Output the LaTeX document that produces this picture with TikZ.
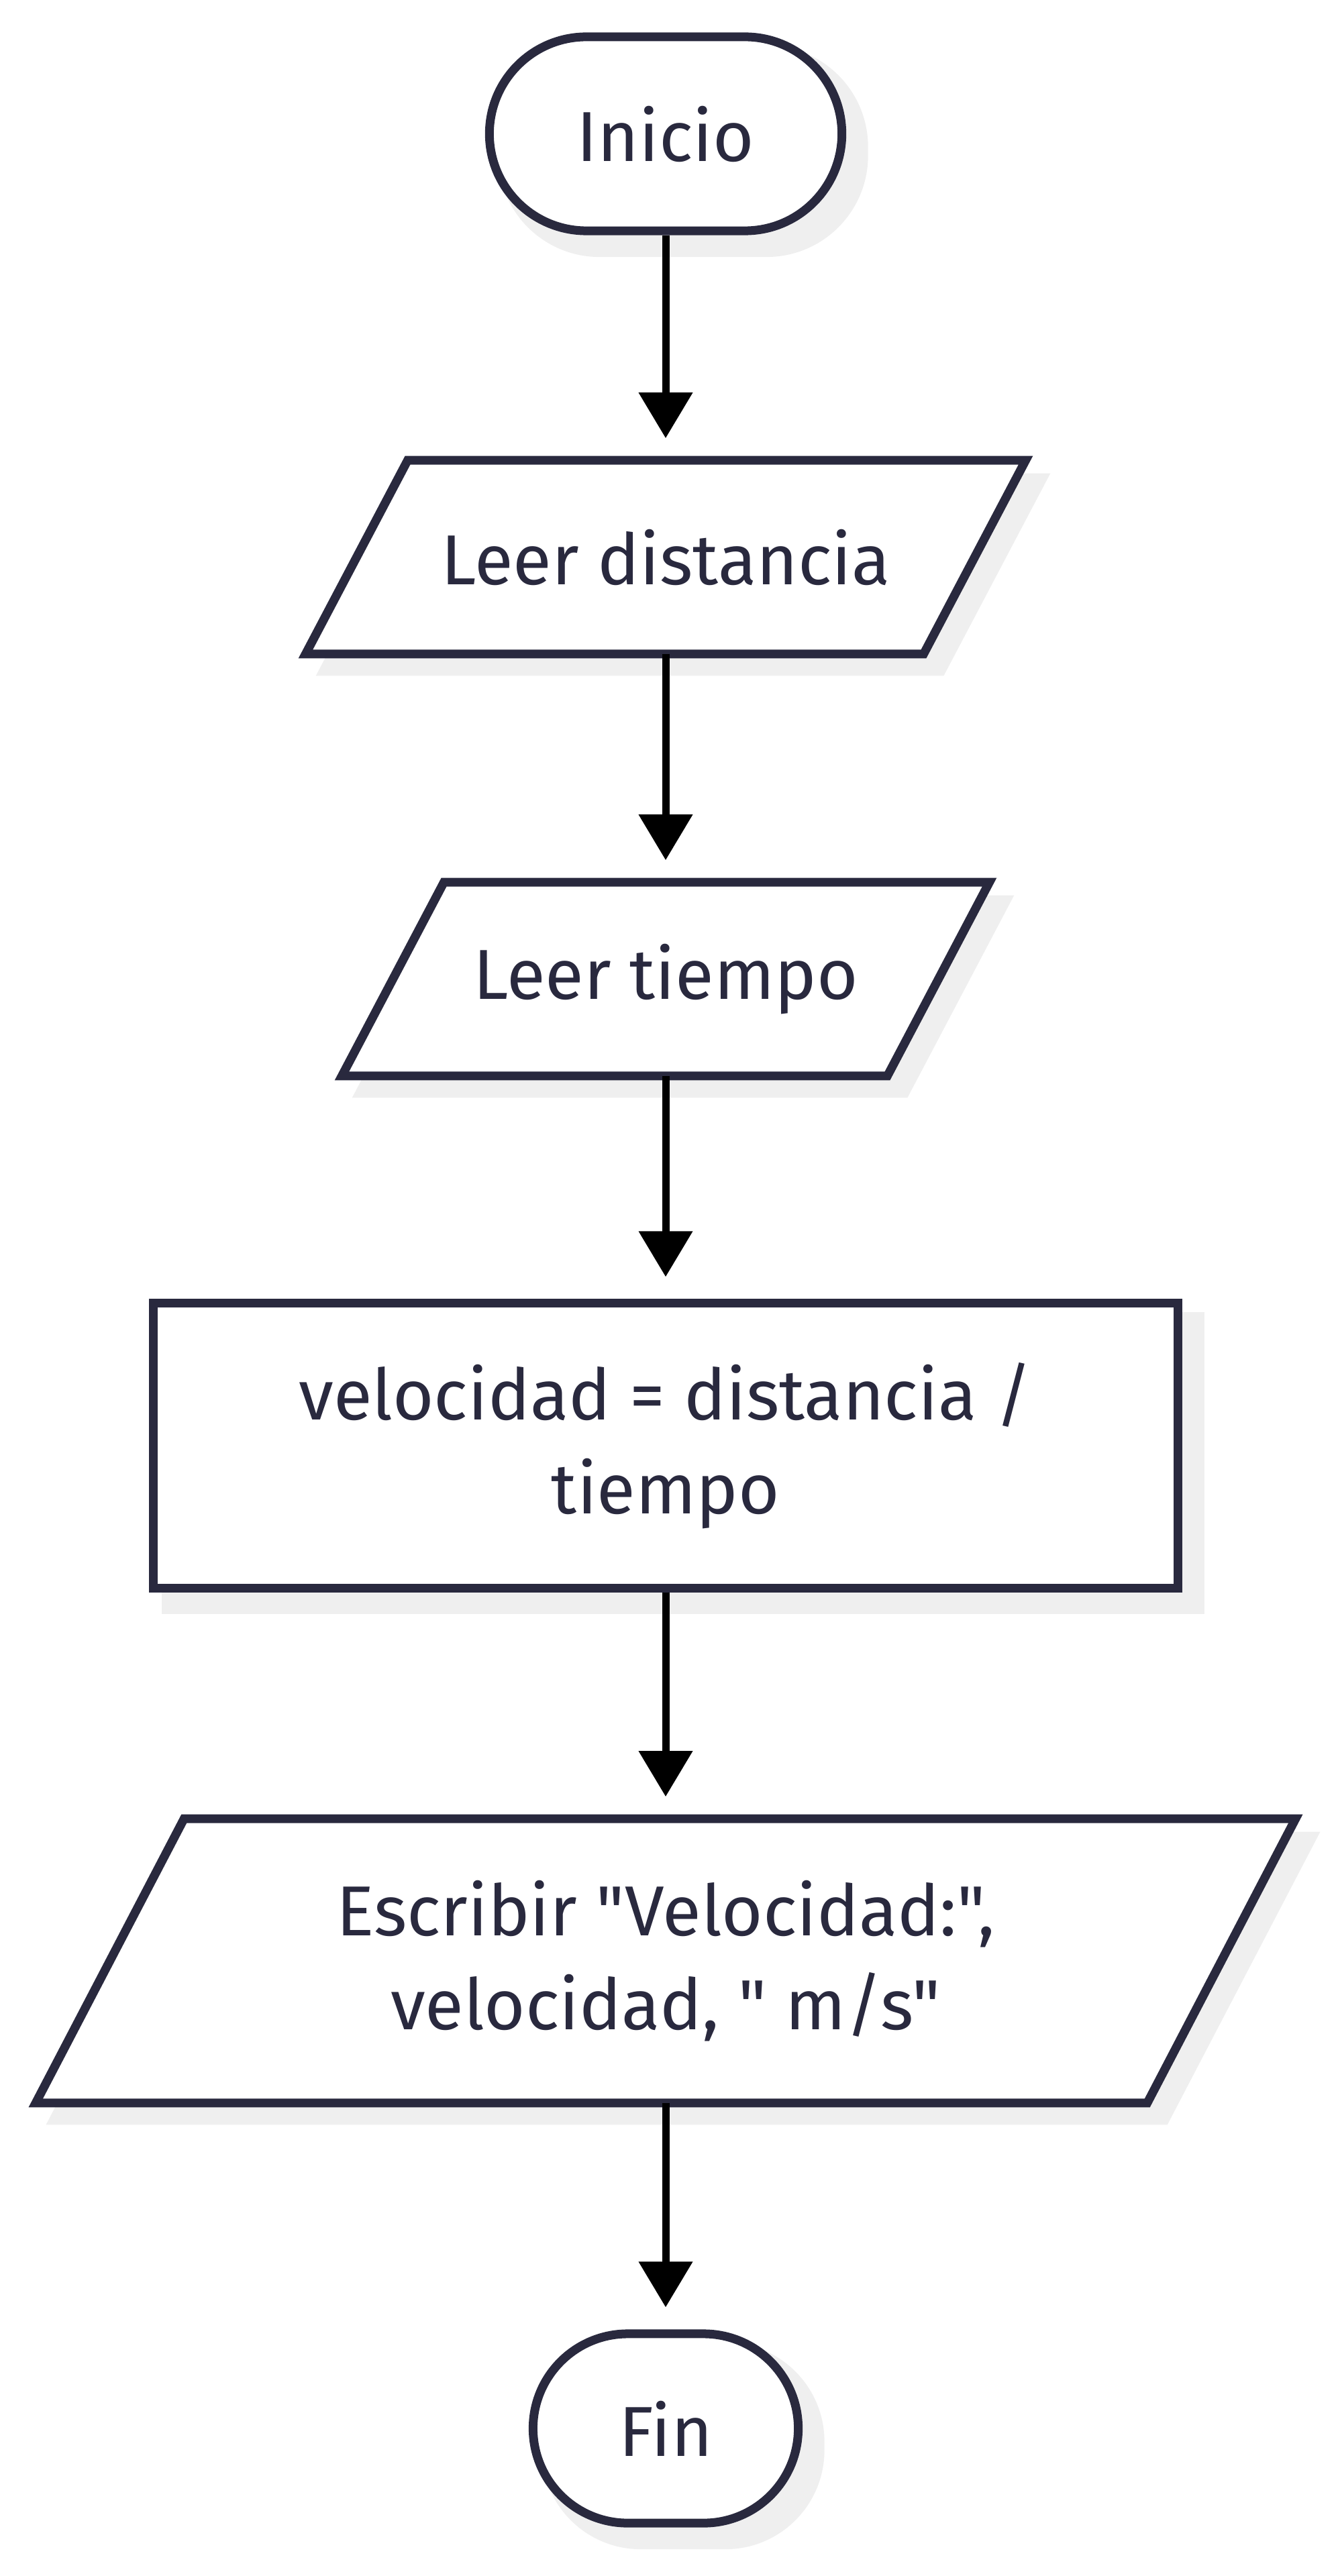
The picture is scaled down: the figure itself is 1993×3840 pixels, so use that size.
\documentclass[tikz,border=0pt]{standalone}
\usepackage{fontspec}
\newfontfamily\flow{Fira Sans}
\usetikzlibrary{calc,arrows.meta,backgrounds}
\definecolor{ink}{RGB}{41,41,62}
\definecolor{shade}{RGB}{239,239,239}
\newcommand\flowtext{\flow\fontsize{30pt}{39.8pt}\selectfont}
\tikzset{
  shapebox/.style={inner sep=0pt, text=ink, font=\flowtext, align=center},
  termbox/.style={shapebox, draw=ink, line width=0.13cm, fill=white, rounded corners=#1},
  procbox/.style={shapebox, draw=ink, line width=0.13cm, fill=white},
  iobox/.style={shapebox},
  ioline/.style={draw=ink, line width=0.13cm, fill=white, line join=miter},
  shadowfill/.style={fill=shade, draw=shade, line width=0.13cm},
  flowarrow/.style={draw=black, line width=0.11cm, -{Triangle[width=0.78cm,length=0.68cm]}, shorten >=0.33cm}
}
\begin{document}
\begin{tikzpicture}[x=0.01cm,y=-0.01cm]
\useasboundingbox (0,0) rectangle (1993,3840);
\node[termbox=1.445cm, minimum width=5.25cm, minimum height=2.89cm] (ini) at (992,199.5) {Inicio};
\node[iobox, minimum width=10.71cm, minimum height=2.87cm] (ld) at (992,830.5) {Leer distancia};
\node[iobox, minimum width=9.63cm, minimum height=2.87cm] (lt) at (992,1459.5) {Leer tiempo};
\node[procbox, minimum width=15.27cm, minimum height=4.24cm] (vel) at (992,2155) {velocidad = distancia /\\tiempo};
\node[iobox, minimum width=18.75cm, minimum height=4.22cm] (out) at (992,2923) {Escribir "Velocidad:",\\ velocidad, " m/s"};
\node[termbox=1.41cm, minimum width=3.95cm, minimum height=2.82cm] (fin) at (992,3620) {Fin};
\begin{scope}[on background layer]
  \fill[shadowfill, rounded corners=1.445cm] ($(ini.north west)+(26,26)$) rectangle ($(ini.south east)+(26,26)$);
  \fill[shadowfill, rounded corners=1.41cm] ($(fin.north west)+(26,26)$) rectangle ($(fin.south east)+(26,26)$);
  \fill[shadowfill] ($(vel.north west)+(26,26)$) rectangle ($(vel.south east)+(26,26)$);
  \fill[shadowfill] ($(ld.north west)+(178,26)$) -- ($(ld.north east)+(26,26)$) -- ($(ld.south east)+(-126,26)$) -- ($(ld.south west)+(26,26)$) -- cycle;
  \fill[shadowfill] ($(lt.north west)+(178,26)$) -- ($(lt.north east)+(26,26)$) -- ($(lt.south east)+(-126,26)$) -- ($(lt.south west)+(26,26)$) -- cycle;
  \fill[shadowfill] ($(out.north west)+(247,26)$) -- ($(out.north east)+(26,26)$) -- ($(out.south east)+(-195,26)$) -- ($(out.south west)+(26,26)$) -- cycle;
  \path[ioline] ($(ld.north west)+(152,0)$) -- (ld.north east) -- ($(ld.south east)+(-152,0)$) -- (ld.south west) -- cycle;
  \path[ioline] ($(lt.north west)+(152,0)$) -- (lt.north east) -- ($(lt.south east)+(-152,0)$) -- (lt.south west) -- cycle;
  \path[ioline] ($(out.north west)+(221,0)$) -- (out.north east) -- ($(out.south east)+(-221,0)$) -- (out.south west) -- cycle;
\end{scope}
\draw[flowarrow] (ini.south) -- (ld.north);
\draw[flowarrow] (ld.south) -- (lt.north);
\draw[flowarrow] (lt.south) -- (vel.north);
\draw[flowarrow] (vel.south) -- (out.north);
\draw[flowarrow] (out.south) -- (fin.north);
\end{tikzpicture}
\end{document}
